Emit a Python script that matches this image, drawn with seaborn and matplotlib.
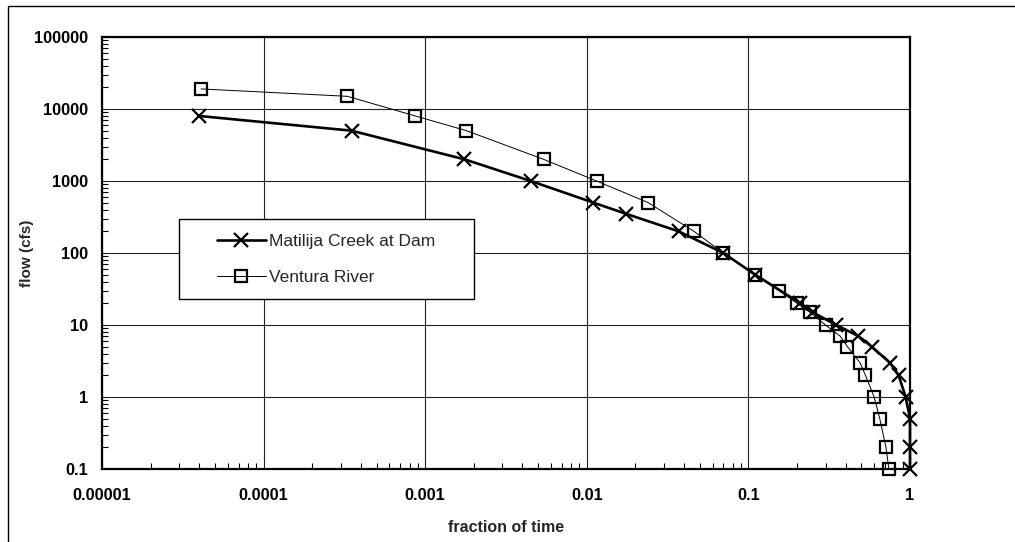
import matplotlib
matplotlib.use('Agg')
import matplotlib.pyplot as plt
import seaborn as sns
from matplotlib.patches import Rectangle
from matplotlib.ticker import LogLocator, FixedLocator, FixedFormatter, NullFormatter

# Matilija Creek at Dam - flow duration (fraction of time exceeded vs flow)
matilija_frac = [0.00004, 0.00035, 0.00175, 0.0045, 0.011, 0.0175, 0.037, 0.07, 0.11,
                 0.21, 0.25, 0.35, 0.48, 0.58, 0.75, 0.85, 0.94, 1.0, 1.0, 1.0]
matilija_flow = [8000, 5000, 2000, 1000, 500, 350, 200, 100, 50,
                 20, 15, 10, 7, 5, 3, 2, 1, 0.5, 0.2, 0.1]

# Ventura River
ventura_frac = [0.000041, 0.00033, 0.00087, 0.0018, 0.0054, 0.0115, 0.024, 0.046, 0.07, 0.11,
                0.155, 0.2, 0.24, 0.3, 0.37, 0.41, 0.49, 0.53, 0.6, 0.65, 0.71, 0.74]
ventura_flow = [19000, 15000, 8000, 5000, 2000, 1000, 500, 200, 100, 50,
                30, 20, 15, 10, 7, 5, 3, 2, 1, 0.5, 0.2, 0.1]

x_ticks = [0.00001, 0.0001, 0.001, 0.01, 0.1, 1]
x_labels = ['0.00001', '0.0001', '0.001', '0.01', '0.1', '1']
y_ticks = [0.1, 1, 10, 100, 1000, 10000, 100000]
y_labels = ['0.1', '1', '10', '100', '1000', '10000', '100000']

sns.set_theme(style='white')
plt.rcParams['font.family'] = ['Liberation Sans', 'DejaVu Sans']

fig = plt.figure(figsize=(10.15, 5.42), dpi=100)
ax = fig.add_axes([102 / 1015, 1 - 469 / 542, 808 / 1015, 432 / 542])

# Matilija: thick line with x markers
sns.lineplot(x=matilija_frac, y=matilija_flow, ax=ax, sort=False, estimator=None,
             color='black', linewidth=1.9, marker='x', markersize=9.5,
             markeredgewidth=1.6, markeredgecolor='black',
             label='Matilija Creek at Dam', clip_on=False, zorder=4)

# Ventura: thin line with open squares
sns.lineplot(x=ventura_frac, y=ventura_flow, ax=ax, sort=False, estimator=None,
             color='black', linewidth=0.7, marker='s', markersize=8,
             markerfacecolor='none', markeredgewidth=1.6, markeredgecolor='black',
             label='Ventura River', clip_on=False, zorder=3)

ax.set_xscale('log')
ax.set_yscale('log')
ax.set_xlim(0.00001, 1)
ax.set_ylim(0.1, 100000)

ax.xaxis.set_major_locator(FixedLocator(x_ticks))
ax.xaxis.set_major_formatter(FixedFormatter(x_labels))
ax.yaxis.set_major_locator(FixedLocator(y_ticks))
ax.yaxis.set_major_formatter(FixedFormatter(y_labels))
ax.xaxis.set_minor_locator(LogLocator(base=10, subs=range(2, 10), numticks=20))
ax.yaxis.set_minor_locator(LogLocator(base=10, subs=range(2, 10), numticks=20))
ax.xaxis.set_minor_formatter(NullFormatter())
ax.yaxis.set_minor_formatter(NullFormatter())

ax.tick_params(which='major', length=0, labelsize=11.8, labelcolor='black')
ax.tick_params(axis='x', which='major', pad=14)
ax.tick_params(axis='y', which='major', pad=10)
ax.tick_params(which='minor', direction='in', length=4, width=0.8, color='black',
               bottom=True, left=True)
for lab in ax.get_xticklabels() + ax.get_yticklabels():
    lab.set_fontweight('bold')

ax.grid(True, which='major', color='#222222', linewidth=0.8)
for sp in ax.spines.values():
    sp.set_color('black')
    sp.set_linewidth(1.6)

ax.set_xlabel('fraction of time', fontsize=11.5, fontweight='bold')
ax.set_ylabel('flow (cfs)', fontsize=11, fontweight='bold')
ax.xaxis.set_label_coords(0.5, -0.118)
ax.yaxis.set_label_coords(-0.084, 0.5)

# legend box drawn separately, legend placed inside it
ax.legend_.remove()
box = Rectangle((0.095, 0.393), 0.365, 0.186, transform=ax.transAxes,
                facecolor='white', edgecolor='black', linewidth=1.0, zorder=5)
ax.add_patch(box)
handles, labels = ax.get_legend_handles_labels()
leg = ax.legend(handles, labels, loc='center', bbox_to_anchor=(0.095, 0.393, 0.365, 0.186),
                frameon=False, fontsize=12.5, handlelength=2.8, handletextpad=0.2,
                labelspacing=1.2, numpoints=1, borderpad=0)
leg.set_zorder(6)

# outer border of the chart area
fig.patches.append(Rectangle((8 / 1015, -0.1), 1.2, 1.1 - 6 / 542, transform=fig.transFigure,
                             fill=False, edgecolor='black', linewidth=1.0))

fig.savefig('out.png', dpi=100)
